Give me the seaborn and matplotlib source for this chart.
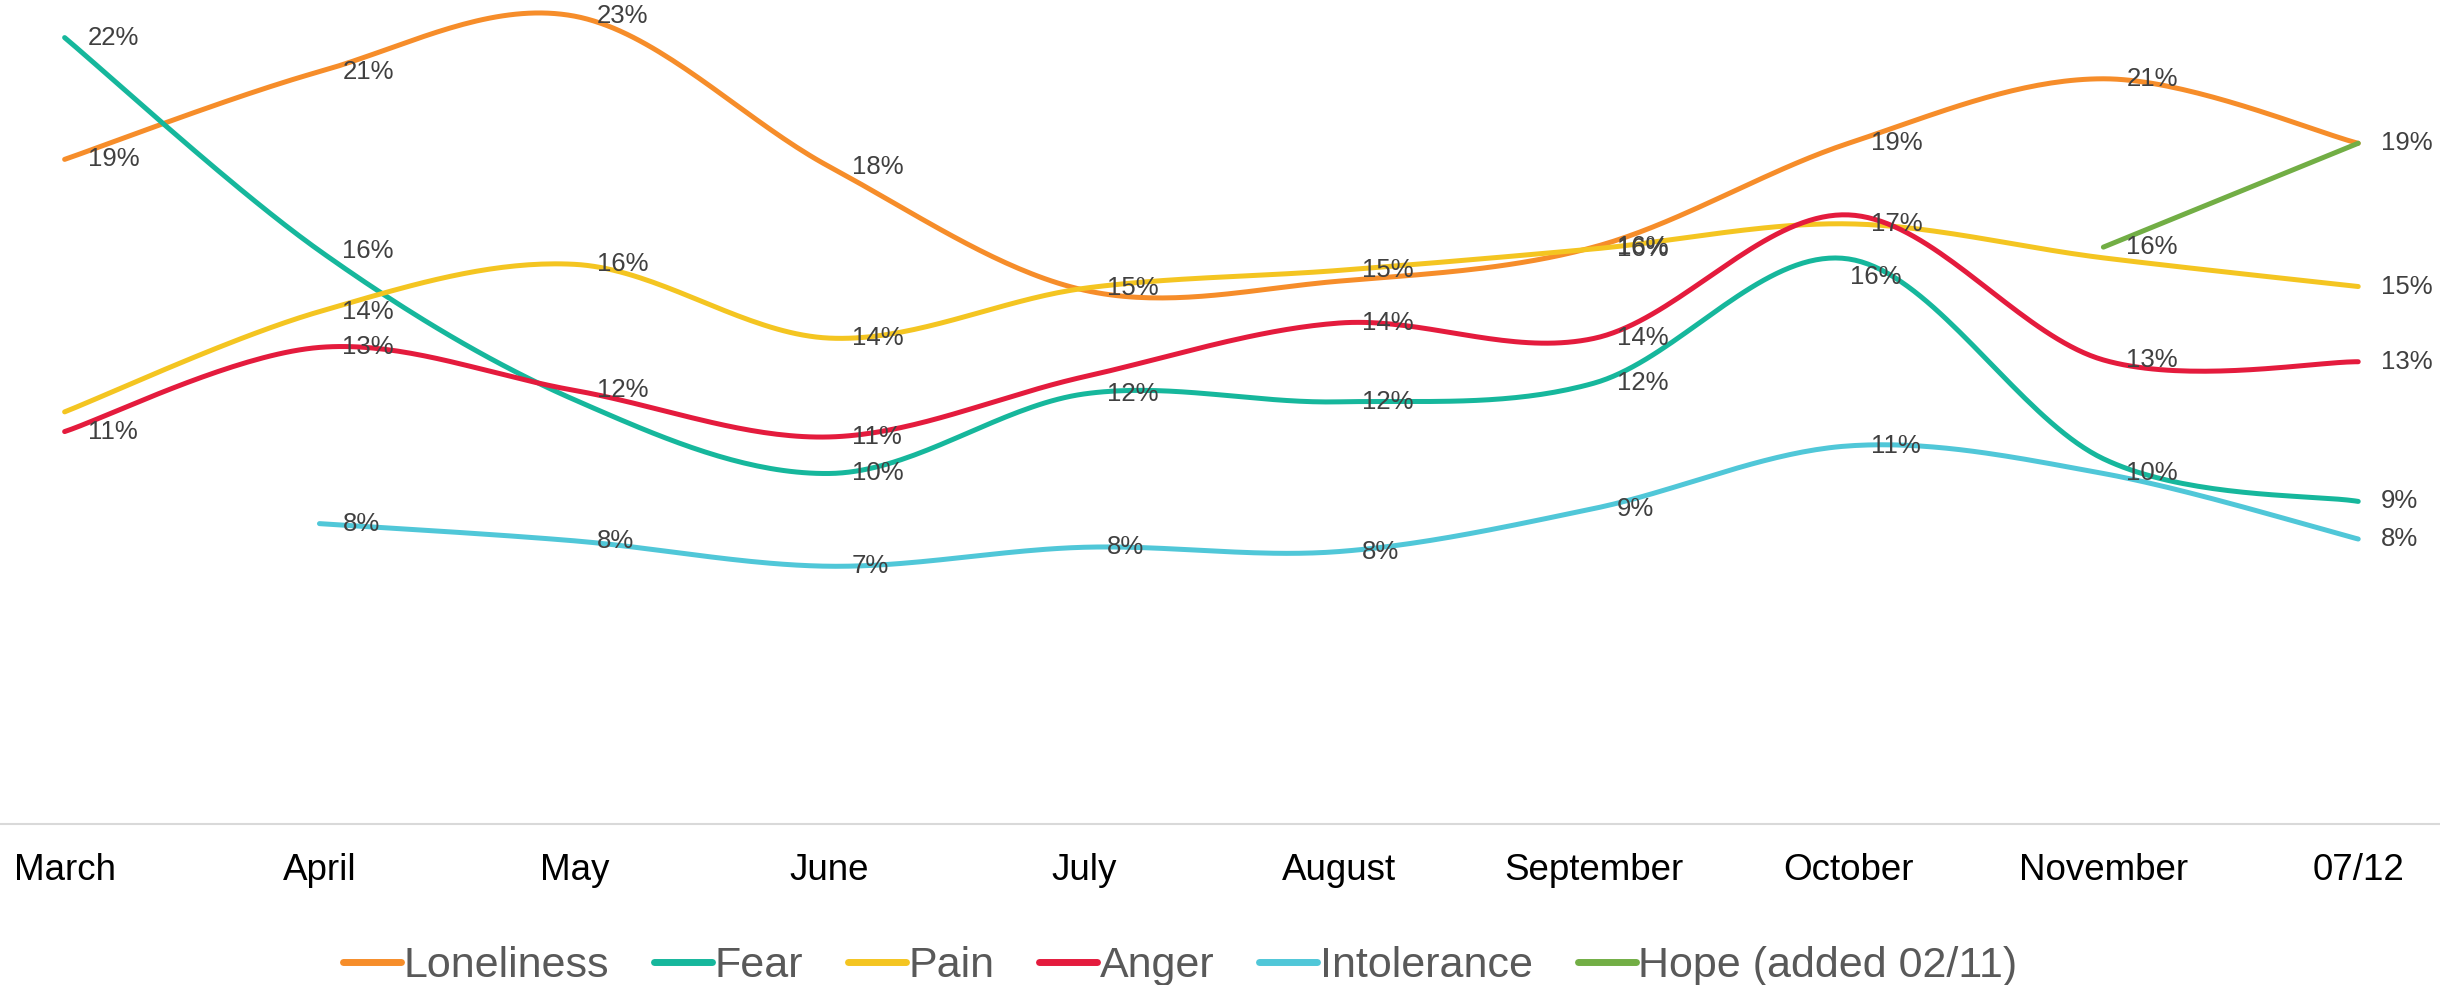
import numpy as np
import matplotlib
matplotlib.use("Agg")
import matplotlib.pyplot as plt
import seaborn as sns

# --- DATA (percent) ---
months = ['March', 'April', 'May', 'June', 'July', 'August',
          'September', 'October', 'November', '07/12']

loneliness = [18.55, 21.0, 22.55, 18.35, 14.9, 15.15, 16.1, 19.0, 20.8, 19.0]
fear = [21.95, 16.0, 11.84, 9.78, 12.0, 11.78, 12.3, 15.77, 10.19, 9.0]
pain = [11.5, 14.3, 15.62, 13.56, 14.95, 15.45, 16.05, 16.75, 15.8, 15.0]
anger = [10.95, 13.3, 12.1, 10.8, 12.48, 13.98, 13.55, 17.0, 12.95, 12.9]
intolerance = [np.nan, 8.38, 7.9, 7.19, 7.72, 7.6, 8.8, 10.55, 9.78, 7.95]
hope = [np.nan] * 8 + [16.1, 19.0]

series_names = ['Loneliness', 'Fear', 'Pain', 'Anger', 'Intolerance', 'Hope (added 02/11)']
series_values = [loneliness, fear, pain, anger, intolerance, hope]
colors = ['#F68D2A', '#16B79C', '#F4C521', '#E41B3D', '#50C7D8', '#72AE45']

# which data labels are visible in the original (some are hidden)
show_labels = [
    [1, 1, 1, 1, 0, 0, 1, 1, 1, 1],
    [1, 1, 0, 1, 1, 1, 1, 1, 0, 1],
    [0, 1, 1, 1, 1, 1, 1, 1, 0, 1],
    [1, 1, 1, 1, 0, 1, 1, 0, 1, 1],
    [0, 1, 1, 1, 1, 1, 1, 1, 1, 1],
    [0, 0, 0, 0, 0, 0, 0, 0, 1, 0],
]


def smooth(xs, ys, n=40):
    # Excel-like smoothed line: Catmull-Rom style cubic Bezier segments
    p = np.column_stack([xs, ys])
    out = []
    for i in range(len(p) - 1):
        p0 = p[i - 1] if i > 0 else p[i]
        p1, p2 = p[i], p[i + 1]
        p3 = p[i + 2] if i + 2 < len(p) else p[i + 1]
        c1 = p1 + (p2 - p0) / 6
        c2 = p2 - (p3 - p1) / 6
        t = np.linspace(0, 1, n)[:, None]
        seg = ((1 - t) ** 3) * p1 + 3 * ((1 - t) ** 2) * t * c1 + 3 * (1 - t) * t ** 2 * c2 + t ** 3 * p2
        out.append(seg if i == 0 else seg[1:])
    seg = np.vstack(out)
    return seg[:, 0], seg[:, 1]


sns.set_style('white')
plt.rcParams['font.family'] = ['Liberation Sans', 'DejaVu Sans']

fig = plt.figure(figsize=(24.4, 9.85), dpi=100)
ax = fig.add_axes([0, 0.1637, 1, 0.8363])

x_idx = np.arange(len(months))
for name, vals, col, shows in zip(series_names, series_values, colors, show_labels):
    v = np.array(vals, dtype=float)
    ok = ~np.isnan(v)
    cx, cy = smooth(x_idx[ok], v[ok])
    sns.lineplot(x=cx, y=cy, sort=False, estimator=None, color=col,
                 linewidth=3.6, label=name, ax=ax)
    for i in x_idx[ok]:
        if not shows[i]:
            continue
        off = (16.5, 0)
        if name == 'Fear' and i == 7:
            off = (1, -13)
        txt = f"{int(np.floor(v[i] + 0.5))}%"
        ax.annotate(txt, (i, v[i]), xytext=off, textcoords='offset points',
                    ha='left', va='center', fontsize=18.5, color='#404040')

ax.set_xlim(-0.2536, 9.3209)
ax.set_ylim(0, 23.0)
ax.set_xticks(x_idx)
ax.set_xticklabels(months, fontsize=26.5, color='black')
ax.tick_params(axis='x', length=0, pad=21)
ax.set_yticks([])
for s in ['top', 'left', 'right']:
    ax.spines[s].set_visible(False)
ax.spines['bottom'].set_color('#D9D9D9')
ax.spines['bottom'].set_linewidth(1.5)

ax.get_legend().remove()
handles, labels = ax.get_legend_handles_labels()
leg = fig.legend(handles, labels, loc='center', bbox_to_anchor=(0.4836, 0.019),
                 ncol=6, frameon=False, fontsize=31, handlelength=1.35,
                 handletextpad=0.05, columnspacing=1.05)
for t in leg.get_texts():
    t.set_color('#595959')
for h in leg.get_lines():
    h.set_linewidth(5)

fig.savefig('out.png', dpi=100)
